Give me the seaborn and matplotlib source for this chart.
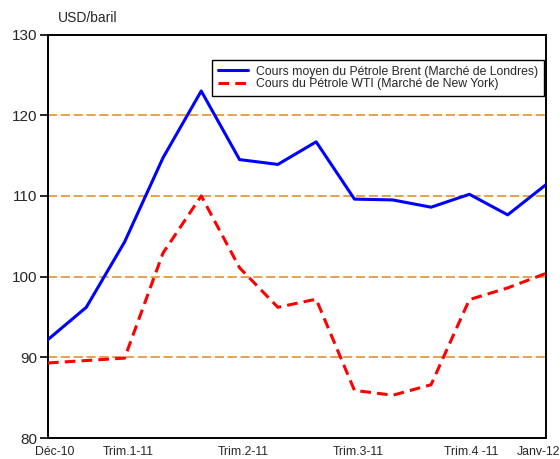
import matplotlib
matplotlib.use("Agg")
import matplotlib.pyplot as plt
import matplotlib.transforms as mtransforms
import seaborn as sns
import pandas as pd
import numpy as np

months = list(range(14))
brent = [92.2, 96.2, 104.3, 114.7, 123.0, 114.5, 113.9, 116.7, 109.6, 109.5, 108.6, 110.2, 107.65, 111.4]
wti = [89.3, 89.6, 89.9, 102.9, 110.0, 101.1, 96.2, 97.2, 85.9, 85.3, 86.6, 97.15, 98.6, 100.4]
tick_idx = [0, 2, 5, 8, 11, 13]
tick_labels = ["Déc-10", "Trim.1-11", "Trim.2-11", "Trim.3-11", "Trim.4 -11", "Janv-12"]
label_brent = "Cours moyen du Pétrole Brent (Marché de Londres)"
label_wti = "Cours du Pétrole WTI (Marché de New York)"

sns.set_theme(style="white")
plt.rcParams['font.family'] = ['Liberation Sans', 'DejaVu Sans']

fig = plt.figure(figsize=(5.6, 4.59), dpi=100)
ax = fig.add_axes([48/560, 1-438/459, (546-48)/560, (438-34.5)/459])

df = pd.DataFrame({"x": months, "brent": brent, "wti": wti})

for y in [90, 100, 110, 120]:
    ax.axhline(y, color="#E0922A", lw=1.2, ls=(0, (5.5, 2.2)), zorder=1)

sns.lineplot(data=df, x="x", y="brent", ax=ax, color="#0000FF", lw=2.2,
             label=label_brent, zorder=3)
sns.lineplot(data=df, x="x", y="wti", ax=ax, color="#FF0000", lw=2.2,
             label=label_wti, zorder=3)
ax.lines[-1].set_dashes((3.5, 2))

ax.set_xlim(0, 13)
ax.set_ylim(80, 130)
ax.set_yticks([80, 90, 100, 110, 120, 130])
ax.set_xticks(tick_idx)
ax.set_xticklabels(tick_labels, fontsize=8.8)
ax.set_xlabel("")
ax.set_ylabel("")
ax.tick_params(axis="y", labelsize=11, length=6, width=1.2, color="black", left=True, pad=2)
ax.tick_params(axis="x", length=0, pad=6)

offsets = [7, 4, 4, 4, 2, -7]
for lab, off in zip(ax.get_xticklabels(), offsets):
    lab.set_transform(lab.get_transform() + mtransforms.ScaledTranslation(off/100, 0, fig.dpi_scale_trans))

for s in ax.spines.values():
    s.set_visible(True)
    s.set_color("black")
    s.set_linewidth(1.4)

fig.text(58/560, 1-18/459, "USD/baril", fontsize=10, va="center", ha="left")

leg = ax.legend(loc="upper right", bbox_to_anchor=(1.0 - 2/498, 1 - 25/403.5), fontsize=8.8,
                frameon=True, fancybox=False, framealpha=1, edgecolor="black",
                borderpad=0.5, handlelength=2.45, labelspacing=0.05, handletextpad=0.6,
                borderaxespad=0)
leg.get_frame().set_linewidth(1.0)
leg.get_lines()[1].set_dashes((3.5, 2))

fig.savefig("out.png", dpi=100)
